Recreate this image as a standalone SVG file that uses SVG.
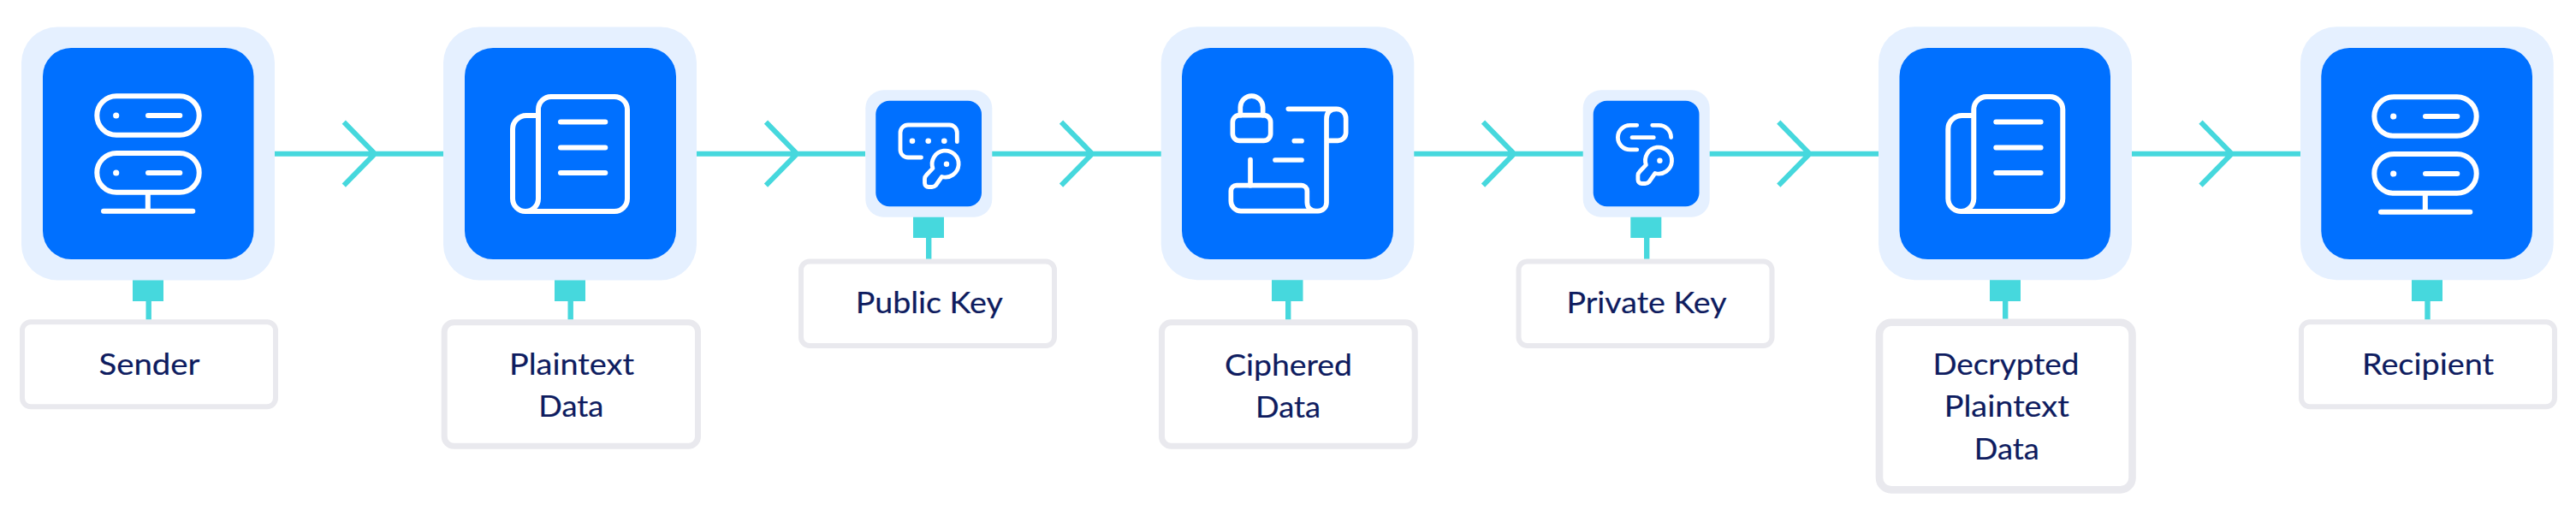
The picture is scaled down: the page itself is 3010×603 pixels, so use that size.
<svg xmlns="http://www.w3.org/2000/svg" xmlns:xlink="http://www.w3.org/1999/xlink" width="3010" height="603" viewBox="0 0 3010 603">
<style>
.outer{fill:#E5F0FF}
.inner{fill:#0070FF}
.tab{fill:#46D8DD}
.box{fill:#fff;stroke:#E9E9EE}
.lbl{font-family:"Lato","Noto Sans",sans-serif;font-size:35.5px;fill:#0E1C5F;stroke:#0E1C5F;stroke-width:.2px;text-anchor:middle}
.ic{fill:none;stroke:#fff;stroke-width:6;stroke-linecap:round;stroke-linejoin:round}
.ick{fill:none;stroke:#fff;stroke-width:4.8;stroke-linecap:round;stroke-linejoin:round}
.ics{fill:none;stroke:#fff;stroke-width:17;stroke-linecap:round;stroke-linejoin:round}
.dot{fill:#fff}
.conn{fill:none;stroke:#46D8DD;stroke-width:6}
</style>
<defs>
<g id="server">
<rect class="ic" x="113.3" y="112.3" width="119.4" height="45.4" rx="22.7"/>
<rect class="ic" x="113.3" y="179" width="119.4" height="45.7" rx="22.8"/>
<circle class="dot" cx="135.7" cy="135" r="3.6"/>
<circle class="dot" cx="135.7" cy="202" r="3.6"/>
<path class="ic" d="M173 135H210.3M173 202H210.3M172.8 225V246.7M121 246.7H225.3"/>
</g>
<g id="doc">
<path class="ic" d="M629 232V128a15 15 0 0 1 15-15H718a15 15 0 0 1 15 15V232a15 15 0 0 1-15 15H614a15 15 0 0 1-15-15V151a16 16 0 0 1 16-16H629M629 232a15 15 0 0 1-15 15"/>
<path class="ic" d="M655 142.4H707.3M655 172.4H707.3M655 202H707.3"/>
</g>
<g id="key">
<path class="ick" d="M1090 196.7L1083 204q-2.5 2.5-2.5 5v5a4.5 4.5 0 0 0 4.5 4.5h4q2.5 0 4.5-2L1100.5 206.5A15.5 15.5 0 1 0 1090 196.7Z"/>
<circle class="dot" cx="1106" cy="191.7" r="3.2"/>
</g>
</defs>

<g id="connectors">
<path class="conn" d="M321 179.7H518M401.8 142.7L438 179.7L401.8 216.7"/>
<path class="conn" d="M814 179.7H1011M895 142.7L931.2 179.7L895 216.7"/>
<path class="conn" d="M1159 179.7H1357M1240 142.7L1276.2 179.7L1240 216.7"/>
<path class="conn" d="M1652 179.7H1850M1733 142.7L1769.2 179.7L1733 216.7"/>
<path class="conn" d="M1997 179.7H2195M2078.3 142.7L2114.5 179.7L2078.3 216.7"/>
<path class="conn" d="M2491 179.7H2688M2571.5 142.7L2607.7 179.7L2571.5 216.7"/>
</g>

<g id="node-sender">
<rect class="tab" x="155" y="327" width="36" height="25"/><rect class="tab" x="170.5" y="350" width="6.4" height="26"/>
<rect class="outer" x="25" y="31.5" width="296" height="296" rx="42"/>
<rect class="inner" x="50" y="56" width="246.5" height="247" rx="33"/>
<use xlink:href="#server" href="#server"/>
<rect class="box" x="26" y="376.3" width="296" height="99" rx="10" stroke-width="6"/>
<text class="lbl" x="174.5" y="438" textLength="118" lengthAdjust="spacingAndGlyphs">Sender</text>
</g>

<g id="node-plaintext">
<rect class="tab" x="648" y="327" width="36" height="25"/><rect class="tab" x="663.5" y="350" width="6.4" height="26"/>
<rect class="outer" x="518" y="31.5" width="296" height="296" rx="42"/>
<rect class="inner" x="543" y="56" width="247" height="247" rx="33"/>
<use xlink:href="#doc" href="#doc"/>
<rect class="box" x="519.2" y="376.8" width="296.3" height="144.4" rx="11" stroke-width="7"/>
<text class="lbl" x="668" y="438.3" textLength="146" lengthAdjust="spacingAndGlyphs">Plaintext</text>
<text class="lbl" x="667.3" y="487.3" textLength="76" lengthAdjust="spacingAndGlyphs">Data</text>
</g>

<g id="node-public-key">
<rect class="tab" x="1067" y="253" width="36" height="25"/><rect class="tab" x="1082" y="276" width="6.4" height="28"/>
<rect class="outer" x="1011.3" y="105.3" width="148" height="148.4" rx="21"/>
<rect class="inner" x="1023.3" y="117.7" width="123.7" height="123.6" rx="16"/>
<path class="ick" d="M1118.3 165.7V155a9 9 0 0 0-9-9H1061a9 9 0 0 0-9 9V175a9 9 0 0 0 9 9H1076.5"/>
<circle class="dot" cx="1066" cy="164.7" r="3.3"/><circle class="dot" cx="1084.7" cy="164.7" r="3.3"/><circle class="dot" cx="1103.3" cy="164.7" r="3.3"/>
<use xlink:href="#key" href="#key"/>
<rect class="box" x="936" y="305.5" width="296" height="98.5" rx="10" stroke-width="6"/>
<text class="lbl" x="1085.8" y="365.7" textLength="172" lengthAdjust="spacingAndGlyphs">Public Key</text>
</g>

<g id="node-ciphered">
<rect class="tab" x="1486" y="327" width="36.5" height="25"/><rect class="tab" x="1502" y="350" width="6.4" height="26"/>
<rect class="outer" x="1356.7" y="31.3" width="295.6" height="296" rx="42"/>
<rect class="inner" x="1381" y="56" width="247" height="247" rx="33"/>
<g transform="translate(1340 20) scale(.33333)">
<rect class="ics" x="301" y="344" width="133" height="89" rx="24"/>
<path class="ics" d="M328 344V316a39.5 39.5 0 0 1 79 0V344"/>
<path class="ics" d="M496 322H665a33 33 0 0 1 33 33V405a28 28 0 0 1-28 28H632M665 322q-35 0-35 35V650a30 30 0 0 1-30 30H330a35 35 0 0 1-35-35V610a20 20 0 0 1 20-20H542a20 20 0 0 1 20 20V650a30 30 0 0 0 30 30"/>
<path class="ics" d="M363 500V590M517 434H543M450 501H543"/>
</g>
<rect class="box" x="1357.5" y="376.8" width="295.7" height="144.4" rx="11" stroke-width="7"/>
<text class="lbl" x="1505.5" y="438.5" textLength="149" lengthAdjust="spacingAndGlyphs">Ciphered</text>
<text class="lbl" x="1505" y="487.5" textLength="76" lengthAdjust="spacingAndGlyphs">Data</text>
</g>

<g id="node-private-key">
<rect class="tab" x="1905.3" y="253" width="36" height="25"/><rect class="tab" x="1921" y="276" width="6.4" height="28"/>
<rect class="outer" x="1849.7" y="105.3" width="148" height="148.4" rx="21"/>
<rect class="inner" x="1861.7" y="117.7" width="123.8" height="123.6" rx="16"/>
<path class="ick" d="M1912.7 146.3H1904.7a14.3 14.3 0 0 0 0 28.6H1912.7M1930.7 146.3H1938.3a14.3 14.3 0 0 1 14.3 14.3M1907 160.7H1932.3"/>
<use xlink:href="#key" href="#key" transform="translate(833.4 -4)"/>
<rect class="box" x="1774.5" y="305.5" width="296" height="98.5" rx="10" stroke-width="6"/>
<text class="lbl" x="1924" y="365.7" textLength="187" lengthAdjust="spacingAndGlyphs">Private Key</text>
</g>

<g id="node-decrypted">
<rect class="tab" x="2325" y="327" width="36" height="25"/><rect class="tab" x="2340" y="350" width="6.4" height="26"/>
<rect class="outer" x="2195" y="31.3" width="296" height="296" rx="42"/>
<rect class="inner" x="2219.5" y="56" width="246.5" height="247" rx="33"/>
<use xlink:href="#doc" href="#doc" transform="translate(1677.3 0)"/>
<rect class="box" x="2196" y="376.7" width="295.5" height="195.7" rx="14" stroke-width="8.6"/>
<text class="lbl" x="2344" y="438.3" textLength="171" lengthAdjust="spacingAndGlyphs">Decrypted</text>
<text class="lbl" x="2344.8" y="487.3" textLength="146" lengthAdjust="spacingAndGlyphs">Plaintext</text>
<text class="lbl" x="2344.8" y="536.7" textLength="76" lengthAdjust="spacingAndGlyphs">Data</text>
</g>

<g id="node-recipient">
<rect class="tab" x="2818" y="327" width="36" height="25"/><rect class="tab" x="2833.3" y="350" width="6.4" height="26"/>
<rect class="outer" x="2688" y="31.3" width="295.7" height="296" rx="42"/>
<rect class="inner" x="2712.3" y="56" width="246.7" height="247" rx="33"/>
<use xlink:href="#server" href="#server" transform="translate(2661 1)"/>
<rect class="box" x="2689" y="376.3" width="296" height="99" rx="10" stroke-width="6"/>
<text class="lbl" x="2837" y="438" textLength="154" lengthAdjust="spacingAndGlyphs">Recipient</text>
</g>
</svg>
